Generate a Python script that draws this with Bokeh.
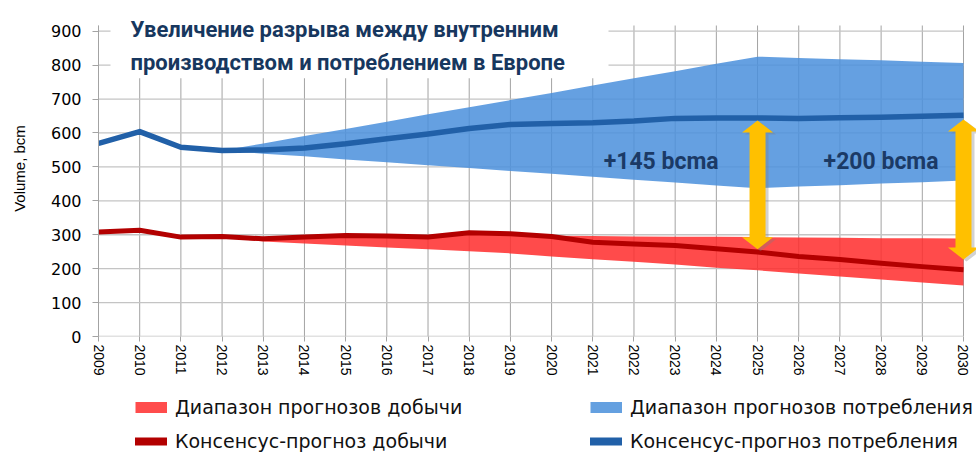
from bokeh.plotting import figure
from bokeh.layouts import column
from bokeh.models import Range1d, FixedTicker, Label, Legend, LegendItem
from bokeh.embed import file_html
from bokeh.resources import INLINE

# ---------------- data ----------------
years = list(range(2009, 2031))
cons_consensus = [569, 604, 558, 548, 550, 556, 568, 583, 597, 613, 625,
                  628, 630, 635, 643, 644, 644, 643, 645, 646, 649, 652]
prod_consensus = [308, 313, 293, 295, 288, 293, 298, 296, 293, 306, 303,
                  295, 278, 273, 268, 259, 249, 236, 227, 216, 206, 197]

band_years = list(range(2012, 2031))
cons_high = [548, 569, 591, 612, 633, 655, 676, 697, 718, 740, 761, 782,
             804, 825, 821, 817, 814, 810, 806]
cons_low = [548, 539, 531, 522, 514, 505, 497, 488, 480, 471, 462, 454,
            445, 437, 442, 446, 451, 455, 460]
prod_high = [292, 287, 290, 294, 293, 290, 300, 300, 297, 296, 295, 294,
             294, 293, 292, 291, 290, 290, 289]
prod_low = [292, 280, 274, 268, 262, 257, 251, 245, 236, 228, 220, 212,
            203, 195, 186, 177, 168, 159, 150]

arrow_years = [2025, 2030]
arrow_top = [637, 640]
arrow_bottom = [257, 227]
gap_labels = ["+145 bcma", "+200 bcma"]

y_ticks = [0, 100, 200, 300, 400, 500, 600, 700, 800, 900]
title_lines = ["Увеличение разрыва между внутренним",
               "производством и потреблением в Европе"]
legend_labels = ["Диапазон прогнозов добычи", "Консенсус-прогноз добычи",
                 "Диапазон прогнозов потребления", "Консенсус-прогноз потребления"]

# ---------------- layout ----------------
W = 976
H1, H2 = 390, 62           # chart part / legend part
FL, FB = 98, 336           # frame left / bottom (canvas px); frame spans to top & right edges
frame_w = W - FL
frame_h = FB
px_per_year = 41.19
px_per_unit = 305.3 / 900.0
x0 = years[0]
x1 = x0 + frame_w / px_per_year
y0 = 0
y1 = frame_h / px_per_unit
grid_top = 916.8           # top end of the plot grid (data)
xpp = (x1 - x0) / frame_w  # data per px (x)
ypp = (y1 - y0) / frame_h  # data per px (y)

BLUE_BAND = "#4A8FDC"
BLUE_LINE = "#2160A8"
RED_BAND = "#FF2C2C"
RED_LINE = "#B30000"
ARROW = "#FFC000"
NAVY = "#17375E"
VGRID = "#A3A3A3"
HGRID = "#C4C4C4"
TITLE_FONT = "Roboto"

p = figure(width=W, height=H1, output_backend="svg", toolbar_location=None,
           x_range=Range1d(x0, x1), y_range=Range1d(y0, y1),
           min_border_left=FL, min_border_right=0, min_border_top=0,
           min_border_bottom=H1 - FB)
p.outline_line_color = None
p.background_fill_color = "white"
p.border_fill_color = "white"

p.xgrid.visible = False
p.ygrid.visible = False

# axes
p.xaxis.ticker = FixedTicker(ticks=years)
p.xaxis.major_label_orientation = "vertical"
p.xaxis.axis_line_color = None
p.xaxis.major_tick_line_color = VGRID
p.xaxis.major_tick_out = 5
p.xaxis.major_tick_in = 0
p.xaxis.minor_tick_line_color = None
p.xaxis.major_label_standoff = 3
p.xaxis.major_label_text_font = "Liberation Sans"
p.xaxis.major_label_text_font_size = "14px"
p.xaxis.major_label_text_color = "#000000"

p.yaxis.ticker = FixedTicker(ticks=y_ticks)
p.yaxis.bounds = (0, grid_top)
p.yaxis.axis_line_color = VGRID
p.yaxis.major_tick_line_color = VGRID
p.yaxis.major_tick_out = 6
p.yaxis.major_tick_in = 0
p.yaxis.minor_tick_line_color = None
p.yaxis.major_label_standoff = 11
p.yaxis.major_label_text_font = "DejaVu Sans"
p.yaxis.major_label_text_font_size = "16px"
p.yaxis.major_label_text_color = "#000000"
p.yaxis.axis_label = "Volume, bcm"
p.yaxis.axis_label_text_font = "Liberation Sans"
p.yaxis.axis_label_text_font_size = "15px"
p.yaxis.axis_label_text_font_style = "normal"
p.yaxis.axis_label_text_color = "#000000"
p.yaxis.axis_label_standoff = 20

# grid lines limited to the plot area
p.segment(x0=years, x1=years, y0=[0] * len(years), y1=[grid_top] * len(years),
          line_color=VGRID, line_width=1)
p.segment(x0=[years[0]] * len(y_ticks), x1=[years[-1]] * len(y_ticks),
          y0=y_ticks, y1=y_ticks, line_color=HGRID, line_width=1.3)

# white box behind title
p.quad(left=[x0 + 12 * xpp], right=[x0 + 510 * xpp], bottom=[761], top=[y1],
       fill_color="white", line_color=None)

# bands
p.varea(x=band_years, y1=cons_low, y2=cons_high, fill_color=BLUE_BAND, fill_alpha=0.85)
p.varea(x=band_years, y1=prod_low, y2=prod_high, fill_color=RED_BAND, fill_alpha=0.85)

# consensus lines
p.line(years, cons_consensus, line_color=BLUE_LINE, line_width=5.5, line_join="round")
p.line(years, prod_consensus, line_color=RED_LINE, line_width=5, line_join="round")

# double-headed arrows
hw, sw, hl = 15.5 * xpp, 8 * xpp, 12 * ypp
def arrow_poly(c, yb, yt, dx=0.0, dy=0.0):
    xs = [c, c + hw, c + sw, c + sw, c + hw, c, c - hw, c - sw, c - sw, c - hw]
    ys = [yt, yt - hl, yt - hl, yb + hl, yb + hl, yb, yb + hl, yb + hl, yt - hl, yt - hl]
    return [x + dx for x in xs], [y + dy for y in ys]

sh_x, sh_y, ar_x, ar_y = [], [], [], []
for c, yb, yt in zip(arrow_years, arrow_bottom, arrow_top):
    a, b = arrow_poly(c, yb, yt, 3 * xpp, -2 * ypp)
    sh_x.append(a); sh_y.append(b)
    a, b = arrow_poly(c, yb, yt)
    ar_x.append(a); ar_y.append(b)
p.patches(sh_x, sh_y, fill_color="#7F7F7F", fill_alpha=0.35, line_color=None)
p.patches(ar_x, ar_y, fill_color=ARROW, line_color=None)

# gap labels
for txt, lx in zip(gap_labels, [2022.66, 2028.0]):
    p.add_layout(Label(x=lx, y=516, text=txt, text_align="center", text_baseline="middle",
                       text_font=TITLE_FONT, text_font_style="bold",
                       text_font_size="23px", text_color="#1B3A66"))

# title
for t, base in zip(title_lines, [29, 62]):
    p.add_layout(Label(x=32, y=FB - base, x_units="screen", y_units="screen", text=t,
                       text_align="left", text_baseline="alphabetic",
                       text_font=TITLE_FONT, text_font_style="bold",
                       text_font_size="22px", text_color=NAVY))

# ---------------- legend strip ----------------
q = figure(width=W, height=H2, output_backend="svg", toolbar_location=None,
           x_range=Range1d(0, 1), y_range=Range1d(0, 1),
           x_axis_type=None, y_axis_type=None, min_border=0,
           min_border_left=FL, min_border_right=0)
q.outline_line_color = None
q.xgrid.visible = False
q.ygrid.visible = False

# legend swatches (renderers kept outside the visible range; they only supply the glyph style)
off = [-5, -4]
lg_red_band = q.line(off, off, line_color="#FF4C4C", line_width=11, line_cap="butt")
lg_red_line = q.line(off, off, line_color=RED_LINE, line_width=8, line_cap="round")
lg_blue_band = q.line(off, off, line_color="#64A0E0", line_width=11, line_cap="butt")
lg_blue_line = q.line(off, off, line_color=BLUE_LINE, line_width=8, line_cap="round")

def make_legend(items, canvas_x):
    return Legend(items=items, location=(canvas_x - FL, 0), orientation="vertical",
                  padding=0, margin=0, spacing=12, label_height=22, glyph_height=22,
                  glyph_width=32, label_standoff=8, border_line_color=None,
                  background_fill_alpha=0.0, label_text_font="DejaVu Sans",
                  label_text_font_size="19px", label_text_color="#111111")

q.add_layout(make_legend([LegendItem(label=legend_labels[0], renderers=[lg_red_band]),
                          LegendItem(label=legend_labels[1], renderers=[lg_red_line])], 135), "center")
q.add_layout(make_legend([LegendItem(label=legend_labels[2], renderers=[lg_blue_band]),
                          LegendItem(label=legend_labels[3], renderers=[lg_blue_line])], 590), "center")

open("out.html", "w").write(file_html(column(p, q, spacing=0), INLINE))
